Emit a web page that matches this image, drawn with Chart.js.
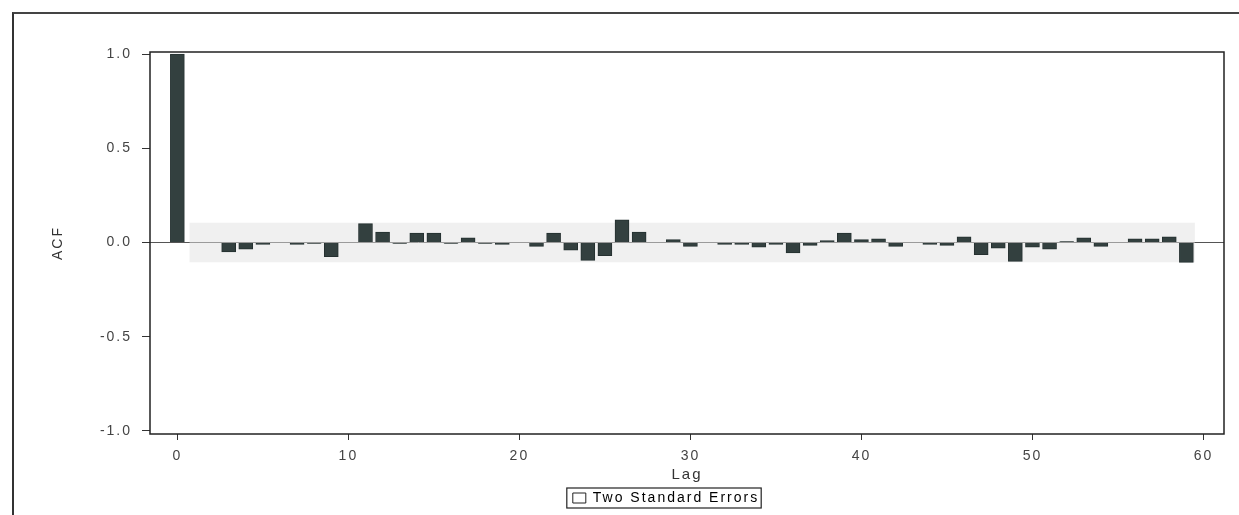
<!DOCTYPE html>
<html>
<head>
<meta charset="utf-8">
<script src="https://cdn.jsdelivr.net/npm/chart.js@4/dist/chart.umd.min.js"></script>
<style>
  html, body { margin: 0; padding: 0; background: #fff; }
  #wrap { position: relative; width: 1239px; height: 515px; }
  #frame { position: absolute; left: 12px; top: 12px; right: 0; bottom: 0; border-top: 2px solid #444; border-left: 2px solid #333; }
  canvas { position: absolute; left: 0; top: 0; }
</style>
</head>
<body>
<div id="wrap">
  <div id="frame"></div>
  <canvas id="acf" width="1239" height="515"></canvas>
</div>
<script>
  // lags 0..60
  const lags = [];
  for (let i = 0; i <= 60; i++) lags.push(i);

  const acf = [
    1.0, 0.0, 0.0, -0.05, -0.035, -0.01, 0.0, -0.01, -0.005, -0.075,
    0.0, 0.10, 0.055, -0.005, 0.05, 0.05, -0.005, 0.025, -0.005, -0.01,
    0.0, -0.02, 0.05, -0.04, -0.095, -0.07, 0.12, 0.055, 0.0, 0.015,
    -0.02, 0.0, -0.01, -0.01, -0.025, -0.01, -0.055, -0.015, 0.01, 0.05,
    0.015, 0.02, -0.02, 0.0, -0.01, -0.015, 0.03, -0.065, -0.03, -0.1,
    -0.025, -0.035, 0.005, 0.025, -0.02, 0.0, 0.02, 0.02, 0.03, -0.105,
    0.0
  ];

  // two standard error band
  const bandLags = [0.7, 59.5];
  const bandUpper = [0.105, 0.105];
  const bandLower = [-0.105, -0.105];

  const yTicks = [-1.0, -0.5, 0.0, 0.5, 1.0];
  const xTicks = [0, 10, 20, 30, 40, 50, 60];

  const tickFont = { family: 'Liberation Sans', size: 14 };

  // wide letter spacing like the scanned SPSS output
  const spacing = {
    id: 'spacing',
    beforeUpdate(chart) { chart.ctx.letterSpacing = '2px'; },
    beforeDraw(chart) { chart.ctx.letterSpacing = '2px'; }
  };

  // legend sits a bit right of the canvas centre in the original
  const legendShift = {
    id: 'legendShift',
    afterLayout(chart) {
      const lg = chart.legend, dx = 34;
      if (!lg) return;
      lg.left += dx;
      lg.right += dx;
      (lg.legendHitBoxes || []).forEach(h => { h.left += dx; });
    }
  };

  // box round the plot area and round the legend
  const boxes = {
    id: 'boxes',
    afterDraw(chart) {
      const c = chart.ctx, a = chart.chartArea;
      c.save();
      c.strokeStyle = '#222';
      c.lineWidth = 1.5;
      c.strokeRect(a.left, a.top, a.right - a.left, a.bottom - a.top);
      const lg = chart.legend;
      if (lg && lg.legendHitBoxes && lg.legendHitBoxes.length) {
        const h = lg.legendHitBoxes[0];
        c.lineWidth = 1.2;
        c.strokeRect(h.left - 6, h.top - 3, h.width + 8, h.height + 6);
      }
      c.restore();
    }
  };

  new Chart(document.getElementById('acf'), {
    type: 'bar',
    data: {
      datasets: [
        {
          type: 'line',
          label: 'Two Standard Errors',
          data: bandLags.map((x, i) => ({ x: x, y: bandUpper[i] })),
          borderWidth: 0,
          pointRadius: 0,
          backgroundColor: 'rgba(225,225,225,0.5)',
          borderColor: 'rgba(0,0,0,0)',
          fill: '+1',
          order: 3
        },
        {
          type: 'line',
          label: 'lower',
          data: bandLags.map((x, i) => ({ x: x, y: bandLower[i] })),
          borderWidth: 0,
          pointRadius: 0,
          borderColor: 'rgba(0,0,0,0)',
          fill: false,
          order: 3
        },
        {
          label: 'ACF',
          data: lags.map((x, i) => ({ x: x, y: acf[i] })),
          backgroundColor: '#33403f',
          borderColor: '#253030',
          borderWidth: 1,
          barThickness: 14,
          order: 1
        }
      ]
    },
    options: {
      responsive: false,
      animation: false,
      layout: { padding: { left: 40, right: 15, top: 52, bottom: 0 } },
      plugins: {
        tooltip: { enabled: false },
        legend: {
          position: 'bottom',
          labels: {
            font: { family: 'Liberation Sans', size: 14 },
            color: '#222',
            boxWidth: 13,
            boxHeight: 10,
            padding: 4,
            generateLabels: chart => [{
              text: 'Two Standard Errors',
              fillStyle: '#fff',
              strokeStyle: '#222',
              lineWidth: 1,
              datasetIndex: 0
            }]
          }
        }
      },
      scales: {
        x: {
          type: 'linear',
          min: -1.6,
          max: 61.2,
          offset: false,
          afterBuildTicks: s => { s.ticks = xTicks.map(v => ({ value: v })); },
          afterFit: s => { s.height = 53; },
          grid: { drawOnChartArea: false, offset: false, tickLength: 6, tickColor: '#333' },
          border: { display: false },
          ticks: { font: tickFont, color: '#444', padding: 8 },
          title: { display: true, text: 'Lag', font: { family: 'Liberation Sans', size: 15 }, color: '#333', padding: { top: 0, bottom: 3 } }
        },
        y: {
          min: -1.016,
          max: 1.011,
          afterBuildTicks: s => { s.ticks = yTicks.map(v => ({ value: v })); },
          afterFit: s => { s.width = 110; },
          grid: {
            color: ctx => (ctx.tick && ctx.tick.value === 0) ? '#555' : 'rgba(0,0,0,0)',
            tickColor: '#333',
            tickLength: 8
          },
          border: { display: false },
          ticks: { font: tickFont, color: '#444', padding: 10, callback: v => v.toFixed(1) },
          title: { display: true, text: 'ACF', font: { family: 'Liberation Sans', size: 14 }, color: '#333', padding: { top: 10, bottom: 0 } }
        }
      }
    },
    plugins: [spacing, legendShift, boxes]
  });
</script>
</body>
</html>
